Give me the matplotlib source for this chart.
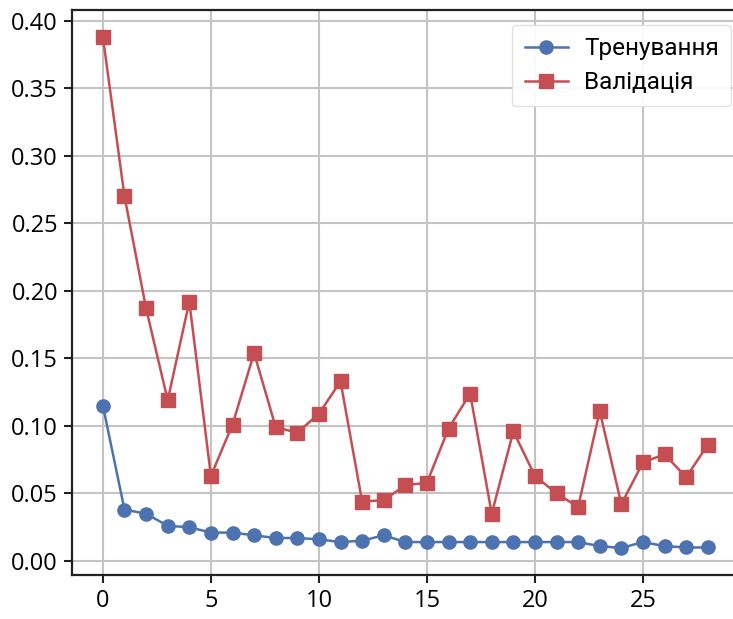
import matplotlib
matplotlib.use("Agg")
import matplotlib.pyplot as plt

epochs = list(range(29))
train_loss = [0.115, 0.038, 0.035, 0.026, 0.025, 0.021, 0.021, 0.019, 0.017, 0.017,
              0.016, 0.014, 0.015, 0.019, 0.014, 0.014, 0.014, 0.014, 0.014, 0.014,
              0.014, 0.014, 0.014, 0.011, 0.0096, 0.014, 0.011, 0.010, 0.010]
val_loss = [0.388, 0.270, 0.187, 0.119, 0.192, 0.063, 0.101, 0.154, 0.099, 0.095,
            0.109, 0.133, 0.044, 0.045, 0.056, 0.058, 0.098, 0.124, 0.035, 0.096,
            0.063, 0.050, 0.040, 0.111, 0.042, 0.073, 0.079, 0.062, 0.086]
labels = ["Тренування", "Валідація"]
xticks = [0, 5, 10, 15, 20, 25]
yticks = [0.00, 0.05, 0.10, 0.15, 0.20, 0.25, 0.30, 0.35, 0.40]

fig = plt.figure(figsize=(7.33, 6.19), dpi=100)
ax = fig.add_axes([72/733, 44/619, 666/733, 565/619])

ax.plot(epochs, train_loss, color="#4C72B0", marker="o", markersize=9.5, linewidth=1.8,
        label=labels[0], zorder=3)
ax.plot(epochs, val_loss, color="#C44E52", marker="s", markersize=9.5, linewidth=1.8,
        label=labels[1], zorder=3)

ax.set_xticks(xticks)
ax.set_yticks(yticks)
ax.set_yticklabels([f"{v:.2f}" for v in yticks])
ax.set_xlim(-1.43, 29.4)
ax.set_ylim(-0.0104, 0.408)
ax.grid(True, color="#c4c4c4", linewidth=1.5)
ax.set_axisbelow(True)
for s in ax.spines.values():
    s.set_color("#222222")
    s.set_linewidth(1.6)
ax.tick_params(axis="both", labelsize=17, length=6, width=1.5, color="#222222",
               labelcolor="black", pad=4)
for lab in ax.get_xticklabels() + ax.get_yticklabels():
    lab.set_fontfamily("Open Sans")

leg = ax.legend(loc="upper right", prop={"family": "Roboto", "size": 17.5},
                frameon=True, fancybox=True, framealpha=0.9, edgecolor="#dddddd",
                borderaxespad=0.0, handlelength=1.8, handletextpad=0.65,
                borderpad=0.5, labelspacing=0.45,
                bbox_to_anchor=(0.9895, 0.973))

fig.savefig("out.png", dpi=100)
